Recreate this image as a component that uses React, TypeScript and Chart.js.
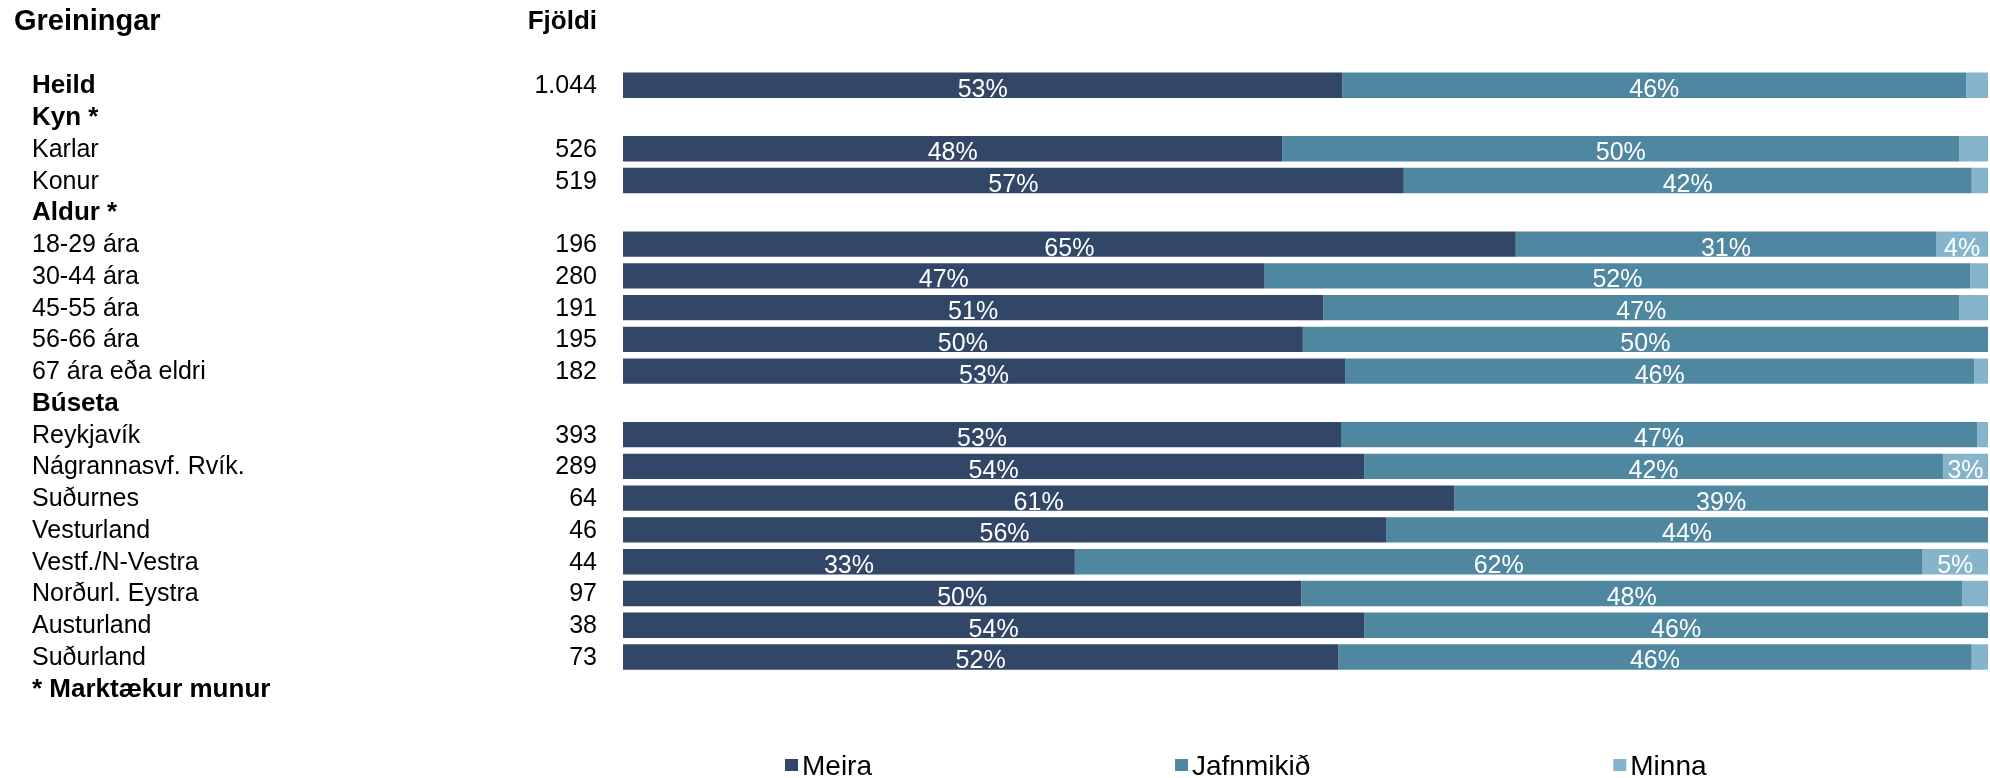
import React, { useEffect, useRef } from "react";
import { Chart, registerables } from "chart.js";

Chart.register(...registerables);

const rowLabels = [
  "Heild", "Kyn *", "Karlar", "Konur", "Aldur *",
  "18-29 ára", "30-44 ára", "45-55 ára", "56-66 ára", "67 ára eða eldri",
  "Búseta", "Reykjavík", "Nágrannasvf. Rvík.", "Suðurnes", "Vesturland",
  "Vestf./N-Vestra", "Norðurl. Eystra", "Austurland", "Suðurland", "* Marktækur munur",
];
const boldRows = [
  true, true, false, false, true,
  false, false, false, false, false,
  true, false, false, false, false,
  false, false, false, false, true,
];
const counts = [
  "1.044", "", "526", "519", "",
  "196", "280", "191", "195", "182",
  "", "393", "289", "64", "46",
  "44", "97", "38", "73", "",
];
const meira = [52.7, null, 48.3, 57.2, null, 65.4, 47.0, 51.3, 49.8, 52.9, null, 52.6, 54.3, 60.9, 55.9, 33.1, 49.7, 54.3, 52.4, null];
const jafnmikid = [45.7, null, 49.6, 41.6, null, 30.8, 51.7, 46.6, 50.2, 46.1, null, 46.6, 42.4, 39.1, 44.1, 62.1, 48.4, 45.7, 46.4, null];
const minna = [1.6, null, 2.1, 1.2, null, 3.8, 1.3, 2.1, 0, 1.0, null, 0.8, 3.3, 0, 0, 4.8, 1.9, 0, 1.2, null];
const seriesNames = ["Meira", "Jafnmikið", "Minna"];
const seriesColors = ["#324667", "#4f87a1", "#86b5cb"];
const headerLeft = "Greiningar";
const headerCount = "Fjöldi";

const FONT = "'Liberation Sans', Arial, sans-serif";
const W = 1990;
const H = 778;

const textPlugin = {
  id: "textPlugin",
  afterDatasetsDraw(chart: any) {
    const ctx = chart.ctx;
    ctx.save();
    ctx.fillStyle = "#ffffff";
    ctx.font = `25px ${FONT}`;
    ctx.textAlign = "center";
    ctx.textBaseline = "alphabetic";
    chart.data.datasets.forEach((ds: any, di: number) => {
      const meta = chart.getDatasetMeta(di);
      meta.data.forEach((el: any, i: number) => {
        const v = ds.data[i];
        if (v == null) return;
        const r = Math.round(v);
        if (r < 3) return;
        const cx = (el.x + el.base) / 2;
        ctx.fillText(`${r}%`, cx, el.y + 11.5);
      });
    });
    ctx.restore();
  },
  afterDraw(chart: any) {
    const ctx = chart.ctx;
    const yScale = chart.scales.y;
    const area = chart.chartArea;
    ctx.save();
    ctx.fillStyle = "#000000";
    ctx.textBaseline = "alphabetic";
    // headers
    ctx.font = `bold 29px ${FONT}`;
    ctx.textAlign = "left";
    ctx.fillText(headerLeft, 14, 30);
    ctx.font = `bold 26px ${FONT}`;
    ctx.textAlign = "right";
    ctx.fillText(headerCount, area.left - 26, 29);
    // rows
    rowLabels.forEach((lab, i) => {
      const y = yScale.getPixelForValue(i) + 8;
      ctx.font = boldRows[i] ? `bold 26px ${FONT}` : `25px ${FONT}`;
      ctx.textAlign = "left";
      ctx.fillText(lab, 32, y);
      if (counts[i]) {
        ctx.font = `25px ${FONT}`;
        ctx.textAlign = "right";
        ctx.fillText(counts[i], area.left - 26, y);
      }
    });
    // legend
    const legendY = 765;
    let x = 785;
    ctx.font = `28px ${FONT}`;
    ctx.textAlign = "left";
    seriesNames.forEach((name, i) => {
      ctx.fillStyle = seriesColors[i];
      ctx.fillRect(x, legendY - 6, 13, 12);
      ctx.fillStyle = "#000000";
      ctx.fillText(name, x + 17, legendY + 10);
      x += 17 + ctx.measureText(name).width + 303;
    });
    ctx.restore();
  },
};

export default function App() {
  const ref = useRef<HTMLCanvasElement>(null);
  useEffect(() => {
    if (!ref.current) return;
    const values = [meira, jafnmikid, minna];
    const chart = new Chart(ref.current, {
      type: "bar",
      data: {
        labels: rowLabels,
        datasets: seriesNames.map((name, i) => ({
          label: name,
          data: values[i],
          backgroundColor: seriesColors[i],
          borderWidth: 0,
          barPercentage: 0.8,
          categoryPercentage: 1,
        })),
      },
      options: {
        indexAxis: "y",
        responsive: false,
        animation: false,
        devicePixelRatio: 1,
        layout: { padding: { left: 623, right: 2, top: 69.4, bottom: 73.4 } },
        scales: {
          x: { stacked: true, min: 0, max: 100, display: false },
          y: { stacked: true, display: false },
        },
        plugins: {
          legend: { display: false },
          tooltip: { enabled: false },
        },
      },
      plugins: [textPlugin],
    });
    return () => chart.destroy();
  }, []);
  return (
    <div style={{ position: "absolute", left: 0, top: 0, width: W, height: H, background: "#fff" }}>
      <canvas ref={ref} width={W} height={H} style={{ width: W, height: H, display: "block" }} />
    </div>
  );
}
